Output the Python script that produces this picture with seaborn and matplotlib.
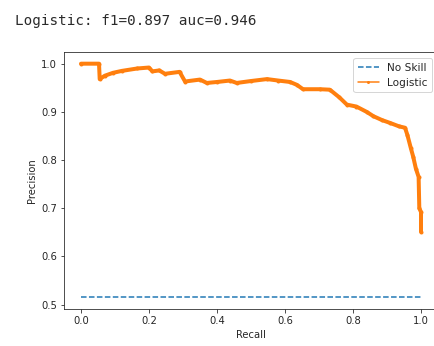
import numpy as np
import pandas as pd
import matplotlib
matplotlib.use("Agg")
import matplotlib.pyplot as plt
import seaborn as sns

# values
no_skill_recall = [0.0, 1.0]
no_skill_precision = [0.515, 0.515]

lr_recall = [0.0, 0.053, 0.055, 0.07, 0.094, 0.12, 0.165, 0.20, 0.21, 0.23,
             0.247, 0.29, 0.306, 0.35, 0.37, 0.40, 0.438, 0.458, 0.50, 0.547,
             0.58, 0.615, 0.635, 0.653, 0.703, 0.732, 0.76, 0.782, 0.81, 0.84,
             0.86, 0.885, 0.909, 0.935, 0.953, 0.96, 0.97, 0.977, 0.985,
             0.993, 0.995, 1.0, 1.0]
lr_precision = [1.0, 1.0, 0.968, 0.975, 0.981, 0.985, 0.99, 0.992, 0.984, 0.986,
                0.979, 0.983, 0.963, 0.967, 0.96, 0.962, 0.965, 0.96, 0.964, 0.968,
                0.965, 0.962, 0.956, 0.947, 0.947, 0.946, 0.93, 0.915, 0.911, 0.90,
                0.891, 0.883, 0.877, 0.87, 0.867, 0.852, 0.825, 0.807, 0.782,
                0.765, 0.70, 0.692, 0.651]

title_text = "Logistic: f1=0.897 auc=0.946"

sns.set_style("ticks")

W, H = 434, 346
fig = plt.figure(figsize=(W / 72, H / 72), dpi=72)
ax = fig.add_axes([64 / W, (H - 309) / H, (438 - 64) / W, (309 - 52) / H])

sns.lineplot(x=no_skill_recall, y=no_skill_precision, linestyle="--",
             color="#1f77b4", label="No Skill", ax=ax, linewidth=1.5)
sns.lineplot(x=lr_recall, y=lr_precision, marker=".", markersize=8,
             markeredgewidth=0, color="#ff7f0e", label="Logistic", ax=ax,
             linewidth=4, estimator=None, sort=False)

ax.set_xlabel("Recall", fontsize=10)
ax.set_ylabel("Precision", fontsize=10)
ax.tick_params(labelsize=10)

leg = ax.legend(loc="upper right", fontsize=10.5, borderaxespad=0.6)
leg.get_lines()[1].set_linewidth(1.5)
leg.get_lines()[1].set_markersize(6)

fig.text(15 / W, 1 - 21 / H, title_text, family="DejaVu Sans Mono",
         fontsize=14.2, va="center", ha="left", color="#2a2a2a")

fig.savefig("out.png", dpi=72)
